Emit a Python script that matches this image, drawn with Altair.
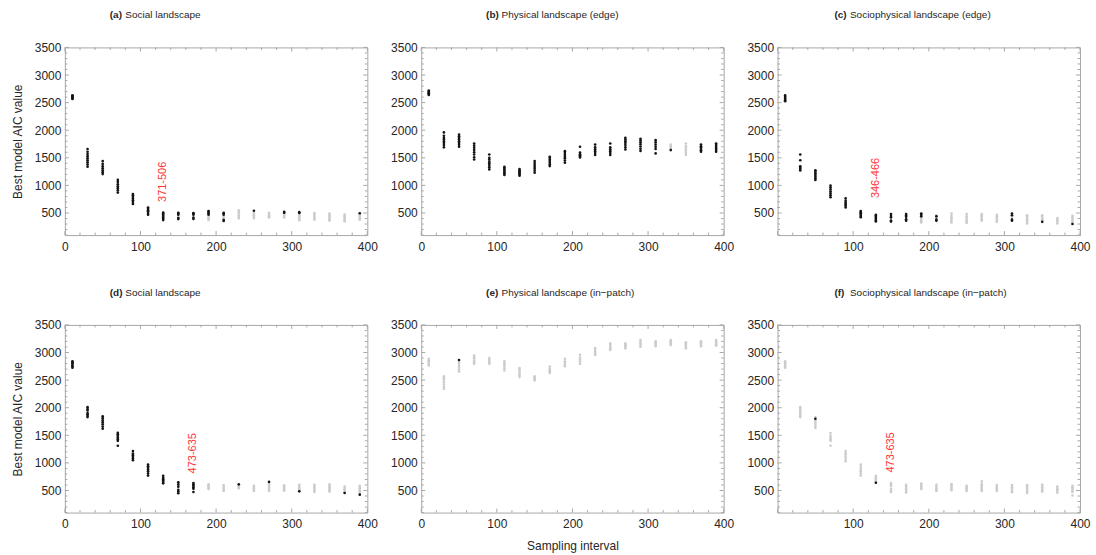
import altair as alt
import pandas as pd

# Sampling intervals on the x axis
INTERVALS = [10, 30, 50, 70, 90, 110, 130, 150, 170, 190,
             210, 230, 250, 270, 290, 310, 330, 350, 370, 390]

# (a) Social landscape — best-model AIC per replicate
SOC_EDGE_BLACK = [
    [2565, 2580, 2592, 2605, 2618, 2632],
    [1340, 1380, 1420, 1455, 1490, 1530, 1570, 1610, 1660],
    [1205, 1240, 1275, 1310, 1345, 1390, 1440],
    [870, 910, 950, 985, 1020, 1060, 1100],
    [665, 700, 730, 760, 790, 820, 845],
    [470, 500, 525, 550, 575, 600],
    [371, 395, 420, 445, 470, 490, 506],
    [390, 410, 470, 490, 505],
    [392, 415, 470, 490, 500],
    [470, 495, 520, 535],
    [355, 375, 470, 490, 505],
    [],
    [540],
    [],
    [505, 520],
    [500, 515],
    [],
    [],
    [],
    [495],
]
SOC_EDGE_GREY = [
    [], [], [], [], [], [], [],
    [440],
    [],
    [375, 400, 420, 445],
    [420, 440],
    [405, 430, 460, 490, 520, 550],
    [405, 430, 455, 480, 505],
    [420, 440, 460, 480, 505],
    [420, 445, 470, 490],
    [370, 395, 420, 445, 470],
    [380, 405, 430, 455, 480, 500],
    [360, 385, 410, 435, 460, 490],
    [350, 375, 400, 425, 450, 470],
    [380, 405, 430, 455, 480],
]

# (b) Physical landscape (edge)
PHY_EDGE_BLACK = [
    [2640, 2655, 2670, 2685, 2700, 2720],
    [1690, 1730, 1770, 1800, 1830, 1860, 1900, 1960],
    [1700, 1735, 1770, 1800, 1830, 1860, 1890, 1920],
    [1470, 1510, 1560, 1600, 1640, 1680, 1720, 1760],
    [1290, 1330, 1370, 1400, 1430, 1470, 1500, 1560],
    [1190, 1215, 1240, 1265, 1290, 1315, 1335],
    [1175, 1195, 1215, 1235, 1255, 1275, 1295],
    [1230, 1265, 1300, 1335, 1370, 1405, 1440],
    [1350, 1380, 1410, 1440, 1470, 1500, 1520],
    [1410, 1450, 1490, 1520, 1550, 1585, 1620],
    [1505, 1525, 1545, 1565, 1595, 1700],
    [1550, 1585, 1620, 1655, 1690, 1740],
    [1550, 1585, 1620, 1655, 1690, 1760],
    [1650, 1690, 1730, 1770, 1800, 1830, 1860],
    [1625, 1665, 1705, 1745, 1780, 1815, 1845],
    [1580, 1660, 1700, 1740, 1780, 1820],
    [1640],
    [],
    [1610, 1635, 1660, 1685, 1710, 1740],
    [1610, 1640, 1670, 1700, 1730, 1760],
]
PHY_EDGE_GREY = [
    [], [], [], [], [], [], [], [], [], [], [], [], [], [], [], [],
    [1660, 1690, 1715, 1740],
    [1550, 1590, 1630, 1670, 1710, 1760],
    [],
    [],
]

# (c) Sociophysical landscape (edge)
SP_EDGE_BLACK = [
    [2525, 2545, 2565, 2585, 2605, 2630],
    [1270, 1295, 1320, 1345, 1455, 1560],
    [1100, 1130, 1160, 1190, 1220, 1250, 1275],
    [785, 820, 855, 890, 925, 960, 995],
    [600, 630, 660, 690, 720, 765],
    [425, 445, 470, 490, 515, 535],
    [346, 365, 390, 410, 430, 450, 466],
    [345, 365, 420, 445, 480],
    [360, 385, 430, 455, 480],
    [440, 470, 490],
    [360, 380, 440],
    [],
    [],
    [],
    [],
    [360, 380, 460, 490],
    [],
    [340],
    [],
    [300],
]
SP_EDGE_GREY = [
    [], [], [], [], [], [], [], [], [],
    [330, 350, 380, 410],
    [400, 420, 460],
    [330, 360, 390, 420, 450, 490],
    [320, 350, 380, 410, 440, 480],
    [360, 385, 410, 435, 460, 480],
    [340, 365, 390, 415, 440, 465],
    [410, 435],
    [310, 340, 370, 400, 430, 460],
    [360, 385, 410, 435, 460],
    [310, 335, 360, 385, 410],
    [330, 360, 390, 420, 450],
]

# (d) Social landscape (in-patch sampling)
SOC_PATCH_BLACK = [
    [2725, 2750, 2775, 2800, 2820, 2840],
    [1830, 1855, 1880, 1905, 1950, 1975, 2010],
    [1620, 1660, 1700, 1735, 1770, 1810, 1845],
    [1310, 1400, 1430, 1460, 1490, 1520, 1545],
    [1050, 1080, 1110, 1140, 1170, 1215],
    [770, 810, 850, 880, 910, 940, 970],
    [630, 655, 680, 705, 730, 765],
    [450, 480, 510, 570, 610, 650],
    [473, 530, 560, 590, 610, 635],
    [], [], [612], [], [655], [], [485], [], [], [455], [425],
]
SOC_PATCH_GREY = [
    [], [], [], [], [], [], [], [], [],
    [525, 545, 565, 585, 610],
    [490, 515, 540, 565, 595],
    [540, 560, 580, 595],
    [490, 515, 540, 565, 585],
    [490, 520, 550, 580, 610],
    [495, 520, 545, 570, 595],
    [505, 530, 555, 580, 605],
    [475, 500, 525, 550, 575, 605],
    [480, 505, 530, 555, 580, 610],
    [470, 495, 520, 545, 570],
    [455, 480, 505, 530, 555, 585],
]

# (e) Physical landscape (in-patch)
PHY_PATCH_BLACK = [
    [], [], [2865], [], [], [], [], [], [], [],
    [], [], [], [], [], [], [], [], [], [],
]
PHY_PATCH_GREY = [
    [2765, 2790, 2815, 2840, 2860, 2885],
    [2345, 2380, 2420, 2460, 2500, 2535, 2570],
    [2655, 2690, 2725, 2760, 2795, 2830],
    [2795, 2825, 2855, 2885, 2915, 2945],
    [2795, 2820, 2845, 2870, 2900],
    [2675, 2710, 2745, 2780, 2810, 2840],
    [2555, 2590, 2620, 2655, 2690, 2720],
    [2495, 2515, 2535, 2555, 2570],
    [2630, 2655, 2680, 2705, 2745],
    [2750, 2780, 2810, 2840, 2885],
    [2795, 2835, 2870, 2910, 2960],
    [2955, 2985, 3015, 3050, 3080],
    [3045, 3075, 3105, 3135, 3165],
    [3075, 3100, 3125, 3145, 3165],
    [3105, 3135, 3165, 3195, 3225],
    [3115, 3140, 3165, 3185, 3205],
    [3135, 3160, 3185, 3205, 3225],
    [3075, 3105, 3135, 3160, 3185],
    [3115, 3140, 3165, 3185, 3205],
    [3125, 3150, 3175, 3200, 3225],
]

# (f) Sociophysical landscape (in-patch)
SP_PATCH_BLACK = [
    [], [], [1800], [], [], [], [640], [], [], [],
    [], [], [], [], [], [], [], [], [], [],
]
SP_PATCH_GREY = [
    [2725, 2750, 2775, 2800, 2820, 2840],
    [1830, 1860, 1890, 1920, 1950, 1980, 2010],
    [1635, 1670, 1705, 1740, 1770, 1830],
    [1310, 1400, 1430, 1460, 1490, 1540],
    [1030, 1070, 1110, 1150, 1180, 1215],
    [770, 810, 850, 890, 930, 970],
    [665, 690, 715, 740, 765],
    [473, 500, 530, 580, 610, 635],
    [465, 490, 515, 545, 575, 605],
    [525, 550, 575, 600, 625],
    [490, 515, 540, 570, 605],
    [505, 530, 560, 590, 615],
    [490, 515, 540, 565, 585],
    [490, 520, 550, 580, 615, 665],
    [490, 515, 540, 565, 600],
    [470, 500, 530, 560, 600],
    [455, 485, 515, 545, 575, 600],
    [480, 505, 530, 555, 580, 605],
    [460, 490, 515, 540, 570],
    [410, 475, 500, 530, 560, 585],
]

PANEL_TAGS = ["(a)", "(b)", "(c)", "(d)", "(e)", "(f)"]
PANEL_NAMES = [
    "Social landscape",
    "Physical landscape (edge)",
    "Sociophysical landscape (edge)",
    "Social landscape",
    "Physical landscape (in\u2212patch)",
    "Sociophysical landscape (in\u2212patch)",
]
# Range annotations: text, interval it sits on, AIC where the text starts
RANGE_TEXT = ["371-506", None, "346-466", "473-635", None, "473-635"]
RANGE_AT = [130, None, 130, 170, None, 150]
RANGE_FROM = [700, None, 770, 810, None, 825]

X_TICKS = [0, 20, 40, 60, 80, 100, 120, 140, 160, 180, 200,
           220, 240, 260, 280, 300, 320, 340, 360, 380, 400]
Y_TICKS = [100, 200, 300, 400, 500, 600, 700, 800, 900, 1000, 1100, 1200,
           1300, 1400, 1500, 1600, 1700, 1800, 1900, 2000, 2100, 2200, 2300,
           2400, 2500, 2600, 2700, 2800, 2900, 3000, 3100, 3200, 3300, 3400, 3500]
X_LABELS_FULL = [0, 100, 200, 300, 400]
X_LABELS_NOZERO = [100, 200, 300, 400]
Y_LABELS = [500, 1000, 1500, 2000, 2500, 3000, 3500]

W, H = 303, 188
FRAME = "#a8a8a8"
TEXT = "#262626"
FONT = "Liberation Sans"

xscale = alt.Scale(domain=[0, 400], nice=False, zero=False)
yscale = alt.Scale(domain=[100, 3500], nice=False, zero=False)


def points_frame(black, grey):
    rows = []
    for x, b, g in zip(INTERVALS, black, grey):
        rows += [{"interval": x, "aic": v, "fit": "grey"} for v in g]
        rows += [{"interval": x, "aic": v, "fit": "black"} for v in b]
    return pd.DataFrame(rows)


def tick_rules(xaxis, yaxis):
    """Inward frame ticks on all four sides, major and minor."""
    layers = []
    xmaj = pd.DataFrame({"interval": [v for v in X_TICKS if v % 100 == 0]})
    xmin = pd.DataFrame({"interval": [v for v in X_TICKS if v % 100 != 0]})
    ymaj = pd.DataFrame({"aic": [v for v in Y_TICKS if v % 500 == 0]})
    ymin = pd.DataFrame({"aic": [v for v in Y_TICKS if v % 500 != 0]})
    for df, ln in ((xmaj, 4), (xmin, 2.5)):
        xe = alt.X("interval:Q", scale=xscale, axis=xaxis)
        layers.append(alt.Chart(df).mark_rule(color=FRAME, strokeWidth=1).encode(
            x=xe, y=alt.value(H), y2=alt.value(H - ln)))
        layers.append(alt.Chart(df).mark_rule(color=FRAME, strokeWidth=1).encode(
            x=xe, y=alt.value(0), y2=alt.value(ln)))
    for df, ln in ((ymaj, 4), (ymin, 2.5)):
        ye = alt.Y("aic:Q", scale=yscale, axis=yaxis)
        layers.append(alt.Chart(df).mark_rule(color=FRAME, strokeWidth=1).encode(
            y=ye, x=alt.value(0), x2=alt.value(ln)))
        layers.append(alt.Chart(df).mark_rule(color=FRAME, strokeWidth=1).encode(
            y=ye, x=alt.value(W), x2=alt.value(W - ln)))
    return layers


def panel(i, black, grey, xlabels, ytitle=None, xtitle=None, title_x=47):
    df = points_frame(black, grey)
    xkw = dict(values=xlabels, ticks=False, domain=False, grid=False,
               labelPadding=6, format="d", labelFlush=False)
    if xtitle:
        xkw.update(title=xtitle, titlePadding=11)
    else:
        xkw.update(title=None)
    ykw = dict(values=Y_LABELS, ticks=False, domain=False, grid=False,
               labelPadding=4, format="d", labelFlush=False)
    if ytitle:
        ykw.update(title=ytitle, titlePadding=10)
    else:
        ykw.update(title=None)
    xaxis = alt.Axis(**xkw)
    yaxis = alt.Axis(**ykw)

    pts = alt.Chart(df).mark_circle(size=7, opacity=1).encode(
        x=alt.X("interval:Q", scale=xscale, axis=xaxis),
        y=alt.Y("aic:Q", scale=yscale, axis=yaxis),
        color=alt.Color("fit:N", legend=None,
                        scale=alt.Scale(domain=["grey", "black"],
                                        range=["#cccccc", "#141414"])),
    )
    head = pd.DataFrame({"tag": [PANEL_TAGS[i]], "name": [PANEL_NAMES[i]]})
    tag = alt.Chart(head).mark_text(
        align="left", baseline="middle", font=FONT, fontSize=10,
        fontWeight="bold", color=TEXT).encode(
        text="tag:N", x=alt.value(title_x), y=alt.value(-32))
    name = alt.Chart(head).mark_text(
        align="left", baseline="middle", font=FONT, fontSize=10,
        color=TEXT).encode(
        text="name:N", x=alt.value(title_x + 15.5), y=alt.value(-32))
    layers = [pts] + tick_rules(xaxis, yaxis) + [tag, name]
    if RANGE_TEXT[i]:
        lab = pd.DataFrame({"interval": [RANGE_AT[i]], "aic": [RANGE_FROM[i]],
                            "txt": [RANGE_TEXT[i]]})
        layers.append(alt.Chart(lab).mark_text(
            angle=270, align="left", baseline="middle", font=FONT,
            fontSize=11, color="#ff3434").encode(
            x=alt.X("interval:Q", scale=xscale, axis=xaxis),
            y=alt.Y("aic:Q", scale=yscale, axis=yaxis),
            text="txt:N"))
    return alt.layer(*layers).properties(width=W, height=H)


a = panel(0, SOC_EDGE_BLACK, SOC_EDGE_GREY, X_LABELS_FULL,
          ytitle="Best model AIC value", title_x=45)
b = panel(1, PHY_EDGE_BLACK, PHY_EDGE_GREY, X_LABELS_FULL, title_x=65)
c = panel(2, SP_EDGE_BLACK, SP_EDGE_GREY, X_LABELS_NOZERO, title_x=57)
d = panel(3, SOC_PATCH_BLACK, SOC_PATCH_GREY, X_LABELS_FULL,
          ytitle="Best model AIC value", title_x=45)
e = panel(4, PHY_PATCH_BLACK, PHY_PATCH_GREY, X_LABELS_FULL,
          xtitle="Sampling interval", title_x=65)
f = panel(5, SP_PATCH_BLACK, SP_PATCH_GREY, X_LABELS_NOZERO, title_x=57)

chart = alt.concat(
    a, b, c, d, e, f, columns=3,
    spacing=alt.RowColnumber(row=90, column=54), bounds="flush",
).properties(
    padding={"left": 10, "top": 9, "right": 5, "bottom": 5},
    background="white",
).configure_view(
    stroke=FRAME, strokeWidth=1
).configure_axis(
    labelFont=FONT, labelFontSize=12, labelColor=TEXT,
    titleFont=FONT, titleFontSize=12, titleFontWeight="normal", titleColor=TEXT,
)

chart.save("out.html", embed_options={"renderer": "svg", "actions": False})
